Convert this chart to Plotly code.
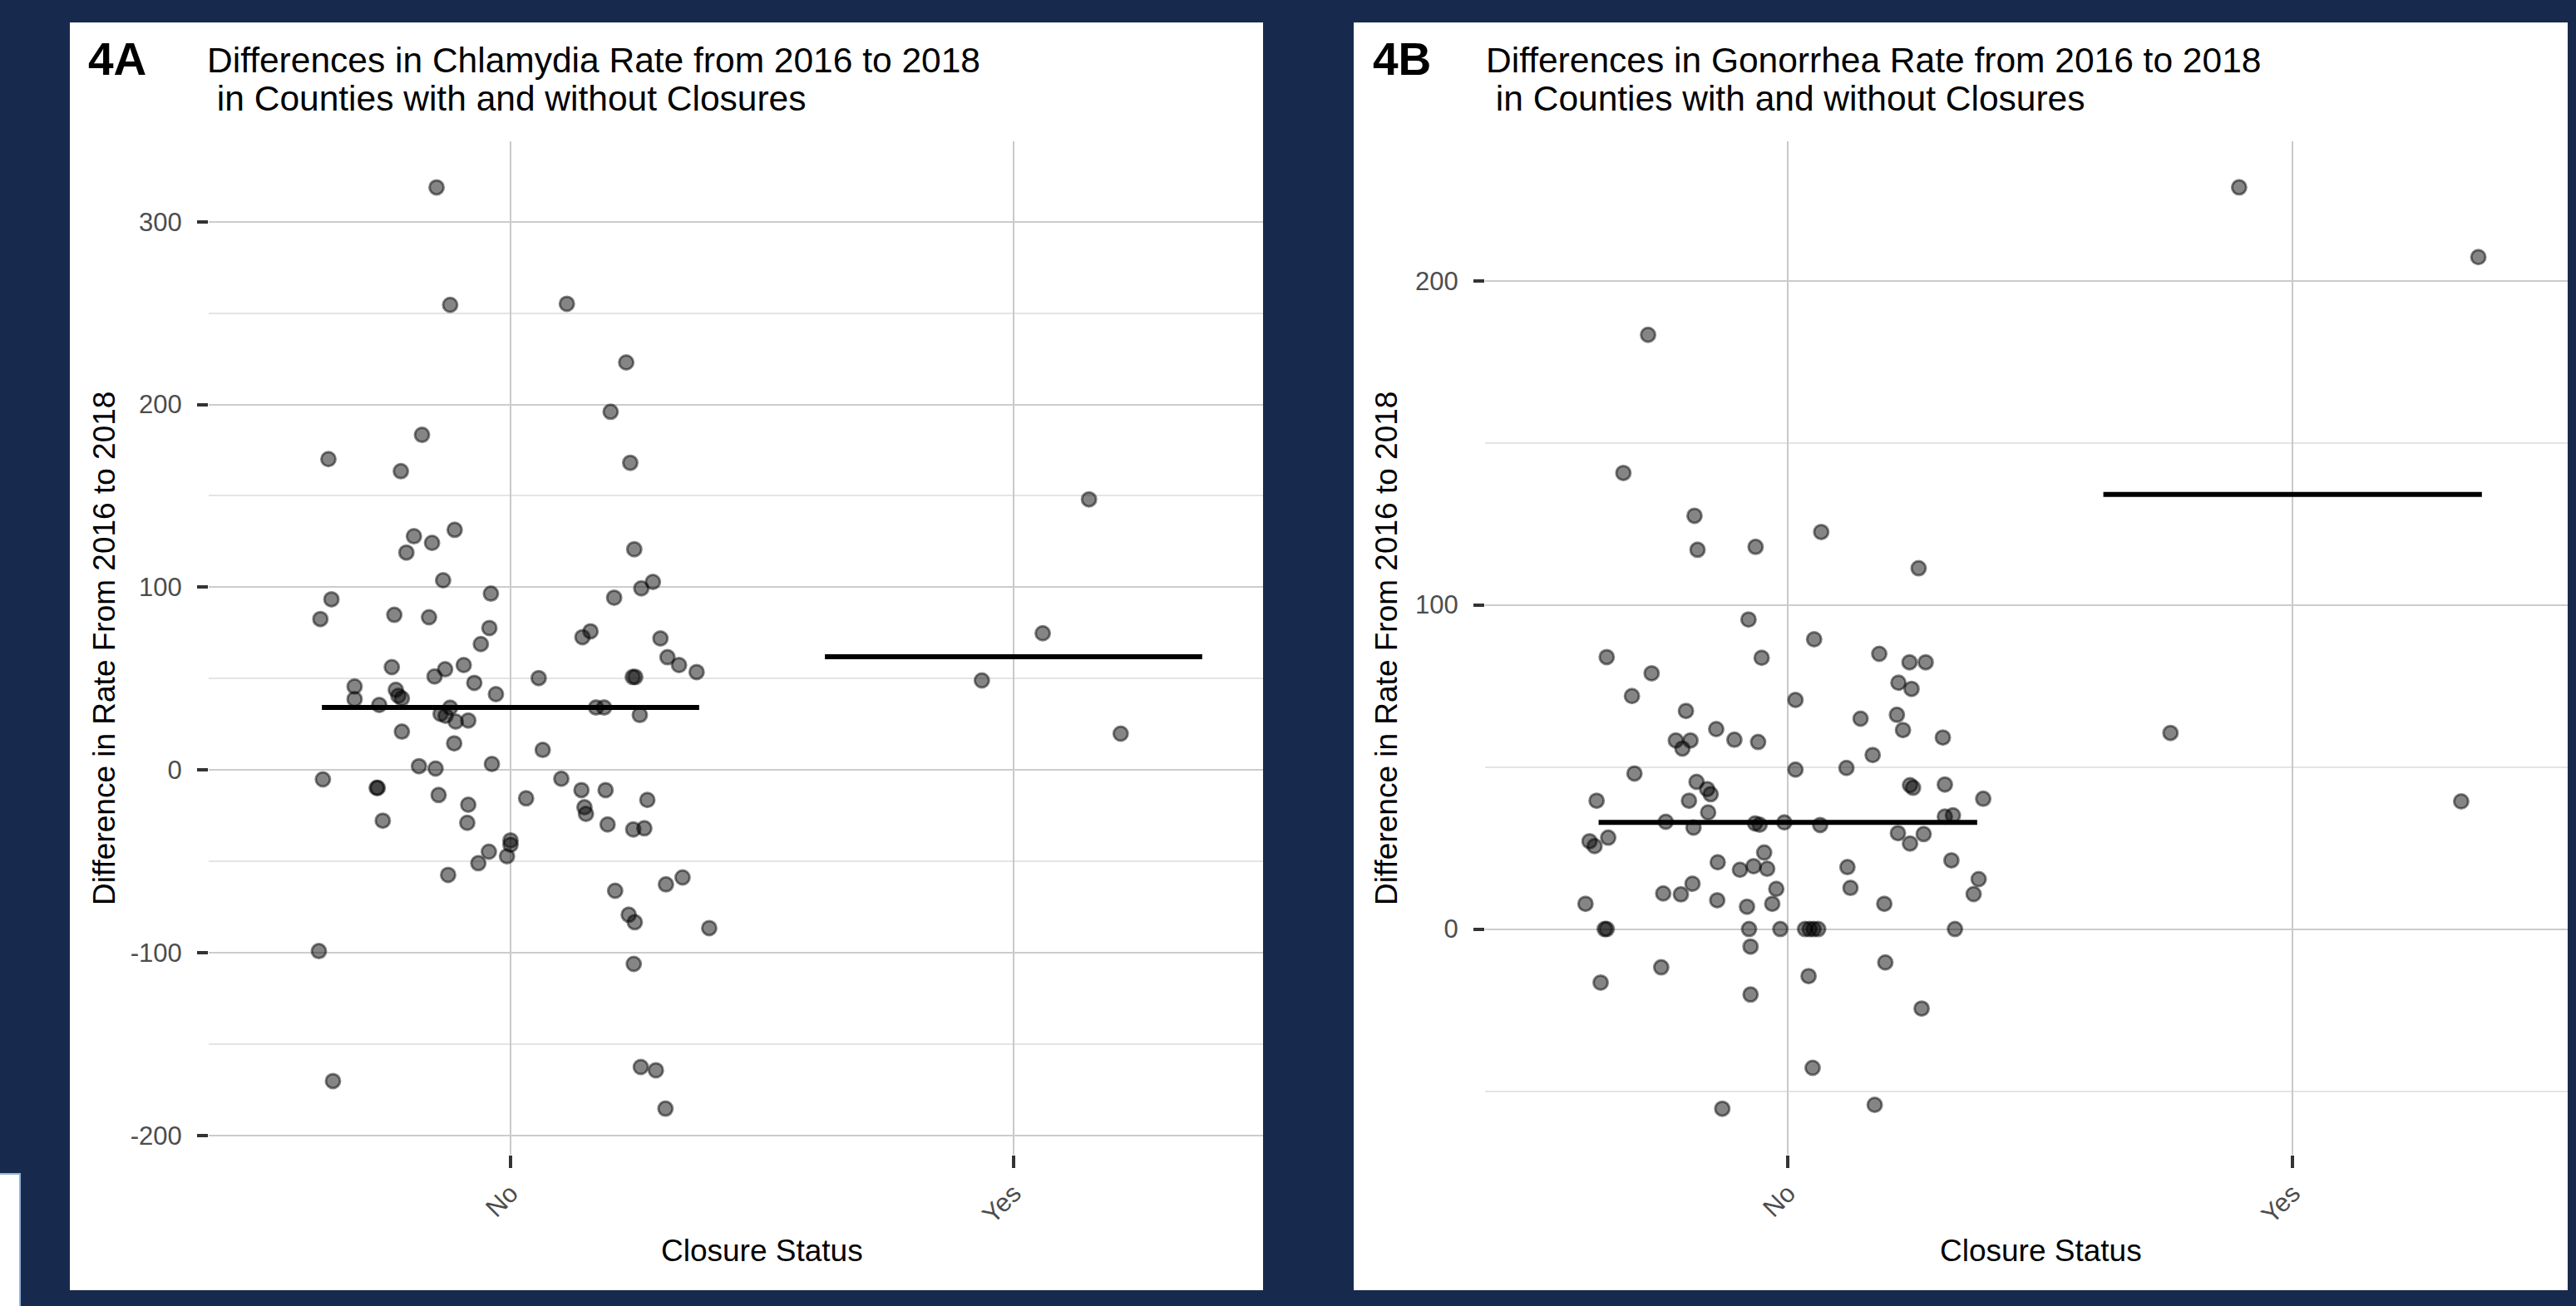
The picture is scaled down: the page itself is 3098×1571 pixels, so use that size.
import plotly.graph_objects as go

# ---------------- data ----------------
categories = ["No", "Yes"]

chla_no = [318.8, 254.5, 255.1, 223.0, 196.0, 183.4, 170.1, 163.5, 168.1,
           131.4, 127.9, 124.3, 119.0, 120.8, 103.8, 102.9, 99.4, 96.5, 93.4,
           94.3, 82.6, 84.9, 83.6, 77.7, 75.9, 72.7, 72.0, 68.9, 61.7, 57.4,
           53.6, 56.3, 57.4, 55.1, 51.2, 50.3, 50.9, 50.9, 45.7, 47.7, 43.9,
           40.6, 39.2, 41.5, 38.8, 35.6, 34.1, 34.2, 34.2, 30.7, 29.7, 26.5,
           27.1, 30.1, 21.0, 14.6, 11.0, 2.1, 0.8, 3.3, -5.1, -4.8, -9.8, -9.8,
           -11.0, -11.0, -13.7, -15.5, -16.4, -19.0, -20.4, -24.0, -27.7, -28.9,
           -29.8, -32.5, -31.9, -38.5, -40.9, -47.2, -44.7, -51.0, -57.4, -66.1,
           -79.2, -83.3, -58.8, -62.6, -86.5, -99.1, -106.1, -162.5, -164.3,
           -170.2, -185.3]
chla_no_jitter = [-0.147, -0.120, 0.112, 0.230, 0.199, -0.176, -0.362, -0.218, 0.238,
                  -0.111, -0.192, -0.156, -0.207, 0.246, -0.134, 0.283, 0.260, -0.039, -0.356,
                  0.206, -0.378, -0.231, -0.162, -0.042, 0.159, 0.143, 0.298, -0.059, 0.312, 0.335,
                  0.370, -0.236, -0.093, -0.130, -0.151, 0.056, 0.243, 0.248, -0.310, -0.072, -0.228,
                  -0.223, -0.216, -0.029, -0.310, -0.261, -0.120, 0.170, 0.186, -0.139, -0.129, -0.109,
                  -0.084, 0.257, -0.216, -0.112, 0.064, -0.182, -0.149, -0.037, -0.373, 0.101, -0.266, -0.264,
                  0.141, 0.189, -0.143, 0.031, 0.272, -0.084, 0.147, 0.150, -0.254, -0.086,
                  0.193, 0.244, 0.266, 0.000, 0.000, -0.007, -0.043, -0.064, -0.124, 0.208,
                  0.235, 0.247, 0.342, 0.309, 0.395, -0.381, 0.245, 0.259, 0.289,
                  -0.353, 0.308]
chla_yes = [49.0, 74.8, 148.1, 19.9]
chla_yes_jitter = [-0.063, 0.058, 0.150, 0.213]
chla_medians = [34.2, 62.0]

gono_no = [183.3, 140.7, 127.5, 117.0, 117.9, 122.5, 111.3, 95.5,
           89.4, 83.9, 83.7, 84.9, 82.3, 82.3, 78.9, 71.9, 70.7, 76.0, 74.1,
           67.3, 64.9, 66.1, 61.4, 61.7, 58.2, 55.7, 58.2, 58.4, 57.7, 59.1,
           53.7, 48.0, 49.2, 49.7, 45.4, 43.2, 41.6, 44.4, 43.6, 44.6, 39.6,
           39.6, 40.2, 36.0, 34.7, 35.1, 33.1, 32.6, 32.2, 32.9, 32.1, 31.3,
           27.1, 25.6, 28.2, 29.6, 29.3, 26.4, 23.6, 20.6, 18.3, 19.4, 18.6,
           19.1, 21.2, 14.0, 12.4, 12.7, 15.4, 11.0, 10.7, 10.8, 7.8, 8.9, 7.8,
           6.9, 7.8, 0, 0, 0, 0, 0, 0, 0, 0, 0,
           -5.4, -11.8, -16.5, -20.2, -14.5, -10.3, -24.5, -42.8, -55.4, -54.2]
gono_no_jitter = [-0.277, -0.326, -0.185, -0.179, -0.064, 0.066, 0.259, -0.078,
                  0.052, -0.359, -0.052, 0.181, 0.241, 0.273, -0.270, -0.309, 0.015, 0.219, 0.245,
                  -0.202, 0.144, 0.216, 0.228, -0.142, -0.222, -0.209, -0.193, -0.106, -0.059, 0.307,
                  0.168, -0.304, 0.015, 0.116, -0.181, -0.160, -0.153, 0.242, 0.248, 0.311, -0.379,
                  -0.196, 0.387, -0.158, 0.311, 0.327, -0.242, -0.065, -0.056, -0.007, 0.064, -0.187,
                  -0.393, -0.383, -0.356, 0.218, 0.269, 0.242, -0.047, -0.139, -0.095, -0.068, -0.041,
                  0.118, 0.324, -0.189, -0.023, 0.124, 0.378, -0.247, -0.212, 0.368, -0.401, -0.140, -0.031,
                  -0.081, 0.191, -0.363, -0.359, -0.077, -0.015, 0.034, 0.043, 0.051, 0.060, 0.331,
                  -0.074, -0.251, -0.371, -0.074, 0.041, 0.193, 0.265, 0.049, -0.130, 0.172]
gono_yes = [228.8, 207.3, 60.5, 39.4]
gono_yes_jitter = [-0.106, 0.368, -0.242, 0.334]
gono_medians = [32.9, 134.1]

chla_ticks = [-200, -100, 0, 100, 200, 300]
gono_ticks = [0, 100, 200]

panel_labels = ["4A", "4B"]
title_line1 = ["Differences in Chlamydia Rate from 2016 to 2018",
               "Differences in Gonorrhea Rate from 2016 to 2018"]
title_line2 = ["\u00a0in Counties with and without Closures",
               "\u00a0in Counties with and without Closures"]
y_title = "Difference in Rate From 2016 to 2018"
x_title = "Closure Status"

# ---------------- styling ----------------
W, H = 3098, 1571
NAVY = "#172a4e"
FONT = "Liberation Sans, Arial, Helvetica, sans-serif"
PT_FILL = "rgba(0,0,0,0.48)"
HALF_W = 0.375


def px(x):
    return x / W


def py(y):
    return 1 - y / H


fig = go.Figure()

panels = [
    dict(no=chla_no, nj=chla_no_jitter, yes=chla_yes, yj=chla_yes_jitter, med=chla_medians,
         ticks=chla_ticks, xr=[0.4, 2.496], yr=[-210.5, 344], xd=[251, 1519], suffix=""),
    dict(no=gono_no, nj=gono_no_jitter, yes=gono_yes, yj=gono_yes_jitter, med=gono_medians,
         ticks=gono_ticks, xr=[0.4, 2.545], yr=[-69.6, 243], xd=[1786, 3088], suffix="2"),
]

for p in panels:
    xa = "x" + p["suffix"]
    ya = "y" + p["suffix"]
    for i, m in enumerate(p["med"]):
        c = i + 1
        fig.add_trace(go.Scatter(
            x=[c - HALF_W, c + HALF_W], y=[m, m], mode="lines", xaxis=xa, yaxis=ya,
            showlegend=False, line=dict(color="black", width=6)))
    xs = [1 + j for j in p["nj"]] + [2 + j for j in p["yj"]]
    ys = p["no"] + p["yes"]
    fig.add_trace(go.Scatter(
        x=xs, y=ys, mode="markers", xaxis=xa, yaxis=ya, showlegend=False,
        marker=dict(size=17, color=PT_FILL, line=dict(color=PT_FILL, width=3)),
        cliponaxis=True))

ydom = [py(1389), py(170)]
axis_common = dict(showline=False, zeroline=False)

for k, p in enumerate(panels):
    xkey = "xaxis" + p["suffix"]
    ykey = "yaxis" + p["suffix"]
    fig.layout[xkey] = dict(
        domain=[px(p["xd"][0]), px(p["xd"][1])], range=p["xr"], anchor="y" + p["suffix"],
        tickvals=[1, 2], ticktext=categories, tickangle=-45,
        showgrid=True, gridcolor="#c9c9c9", gridwidth=2,
        ticks="outside", ticklen=15, tickwidth=4, tickcolor="#333333",
        tickfont=dict(family=FONT, size=31, color="#4d4d4d"),
        fixedrange=True, **axis_common)
    fig.layout[ykey] = dict(
        domain=ydom, range=p["yr"], anchor="x" + p["suffix"],
        tickvals=p["ticks"], ticktext=[str(t) for t in p["ticks"]],
        showgrid=True, gridcolor="#cccccc", gridwidth=2,
        minor=dict(dtick=50, tick0=0, showgrid=True, gridcolor="#e4e4e4", gridwidth=2),
        ticks="outside", ticklen=13, tickwidth=4, tickcolor="#333333",
        ticklabelstandoff=12,
        tickfont=dict(family=FONT, size=31, color="#4d4d4d"),
        fixedrange=True, **axis_common)

# ---------------- background panels ----------------
shapes = [
    dict(type="rect", xref="paper", yref="paper", x0=px(84), x1=px(1519), y0=py(1552), y1=py(27),
         fillcolor="white", line=dict(width=0), layer="below"),
    dict(type="rect", xref="paper", yref="paper", x0=px(1628), x1=px(3088), y0=py(1552), y1=py(27),
         fillcolor="white", line=dict(width=0), layer="below"),
    dict(type="rect", xref="paper", yref="paper", x0=px(-4), x1=px(24), y0=py(1575), y1=py(1412),
         fillcolor="white", line=dict(width=2, color="#8fb3dc"), layer="below"),
]

annotations = []
label_x = [104, 1649]
title_x = [247, 1785]
xtitle_x = [916, 2454]
ytitle_x = [126, 1668]
for k in range(2):
    annotations.append(dict(text="<b>" + panel_labels[k] + "</b>", x=px(label_x[k]), y=py(71),
                            xref="paper", yref="paper", xanchor="left", yanchor="middle",
                            showarrow=False, font=dict(family=FONT, size=55, color="black")))
    annotations.append(dict(text=title_line1[k], x=px(title_x[k]), y=py(73),
                            xref="paper", yref="paper", xanchor="left", yanchor="middle",
                            showarrow=False, font=dict(family=FONT, size=42.5, color="black")))
    annotations.append(dict(text=title_line2[k], x=px(title_x[k]), y=py(118),
                            xref="paper", yref="paper", xanchor="left", yanchor="middle",
                            showarrow=False, font=dict(family=FONT, size=42.5, color="black")))
    annotations.append(dict(text=x_title, x=px(xtitle_x[k]), y=py(1504),
                            xref="paper", yref="paper", xanchor="center", yanchor="middle",
                            showarrow=False, font=dict(family=FONT, size=37, color="black")))
    annotations.append(dict(text=y_title, x=px(ytitle_x[k]), y=py(780), textangle=-90,
                            xref="paper", yref="paper", xanchor="center", yanchor="middle",
                            showarrow=False, font=dict(family=FONT, size=37, color="black")))

fig.update_layout(
    width=W, height=H, margin=dict(l=0, r=0, t=0, b=0),
    paper_bgcolor=NAVY, plot_bgcolor="white",
    shapes=shapes, annotations=annotations, showlegend=False,
    font=dict(family=FONT),
)

fig.write_html(
    "out.html",
    config={"displayModeBar": False},
    post_script="document.documentElement.style.margin='0';document.body.style.margin='0';"
                "document.body.style.padding='0';document.body.style.overflow='hidden';",
)
